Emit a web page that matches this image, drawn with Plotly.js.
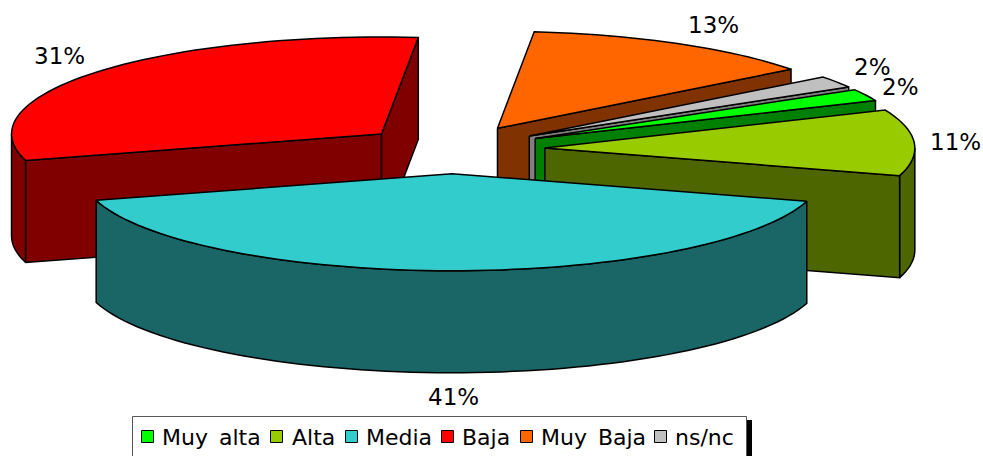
<!DOCTYPE html>
<html>
<head>
<meta charset="utf-8">
<script src="https://cdn.plot.ly/plotly-3.0.1.min.js"></script>
<style>html,body{margin:0;padding:0;background:#fff;overflow:hidden}#chart{width:983px;height:456px}.annotation-text{word-spacing:4px}</style>
</head>
<body>
<div id="chart"></div>
<script>
// ---- data ----
var categories = ["Muy alta", "Alta", "Media", "Baja", "Muy Baja", "ns/nc"];
var values = [2, 11, 41, 31, 13, 2];
var topColors = ["#00FF00", "#99CC00", "#33CCCC", "#FF0000", "#FF6600", "#C0C0C0"];
var sideColors = ["#008000", "#4D6600", "#1A6666", "#800000", "#803300", "#808080"];

// ---- projection of the tilted pie onto the axes ----
var FIRST_ANGLE = 59.7, CX = 452.5, CY = 149.5, RX = 370, RY = 97, DEPTH = 102, EXPLODE = 0.25;
var drawOrder = [4, 5, 0, 1, 3, 2];
var labelPos = [[900, 87], [955, 142], [453, 397], [59, 56], [713, 25], [872, 67]];
var legendSwatchX = [141, 270, 345, 441, 520, 654];
var legendTextX = [160, 290, 364, 460, 539, 673];

function rad(d) { return d * Math.PI / 180; }
var total = values.reduce(function (a, b) { return a + b; }, 0);
var slices = [], cum = FIRST_ANGLE;
values.forEach(function (v, i) {
  var s = cum, e = cum + v / total * 360;
  cum = e;
  var m = (s + e) / 2;
  slices.push({
    i: i, s: s, e: e,
    ax: CX + EXPLODE * RX * Math.sin(rad(m)),
    ay: CY - EXPLODE * RY * Math.cos(rad(m))
  });
});

function pt(sl, a) {
  return [sl.ax + RX * Math.sin(rad(a)), sl.ay - RY * Math.cos(rad(a))];
}
function poly(name, pts, fill) {
  return {
    type: "scatter", mode: "lines", name: name,
    x: pts.map(function (p) { return p[0]; }),
    y: pts.map(function (p) { return p[1]; }),
    fill: "toself", fillcolor: fill,
    line: { color: "#000", width: 1.5, simplify: false },
    hoverinfo: "skip", showlegend: false, cliponaxis: false
  };
}
function arc(sl, a0, a1) {
  var out = [], n = Math.max(2, Math.ceil(Math.abs(a1 - a0) / 2));
  for (var k = 0; k <= n; k++) out.push(pt(sl, a0 + (a1 - a0) * k / n));
  return out;
}
function drop(p) { return [p[0], p[1] + DEPTH]; }

var traces = [];
drawOrder.forEach(function (idx) {
  var sl = slices[idx], name = categories[idx], side = sideColors[idx], apex = [sl.ax, sl.ay];
  var sN = sl.s % 360, eN = sl.e % 360;
  // curved outer wall: only the part facing the viewer (90..270 deg)
  [0, 360].forEach(function (shift) {
    var a0 = Math.max(sl.s, 90 + shift), a1 = Math.min(sl.e, 270 + shift);
    if (a1 > a0) {
      var top = arc(sl, a0, a1);
      traces.push(poly(name, top.concat(top.slice().reverse().map(drop), [top[0]]), side));
    }
  });
  // flat cut walls that face the viewer
  if (sN > 180) {
    var ps = pt(sl, sl.s);
    traces.push(poly(name, [apex, ps, drop(ps), drop(apex), apex], side));
  }
  if (eN < 180) {
    var pe = pt(sl, sl.e);
    traces.push(poly(name, [apex, pe, drop(pe), drop(apex), apex], side));
  }
  // top face
  traces.push(poly(name, [apex].concat(arc(sl, sl.s, sl.e), [apex]), topColors[idx]));
});

// ---- labels and legend ----
var labelFont = { family: "DejaVu Sans, Verdana, sans-serif", size: 23, color: "#000" };
var legendFont = { family: "DejaVu Sans, Verdana, sans-serif", size: 22, color: "#000" };
var annotations = values.map(function (v, i) {
  return { x: labelPos[i][0], y: labelPos[i][1], xref: "x", yref: "y", text: v + "%",
    showarrow: false, font: labelFont, xanchor: "center", yanchor: "middle" };
});
var shapes = [
  { type: "rect", xref: "x", yref: "y", x0: 747, x1: 752, y0: 420, y1: 470, fillcolor: "#000", line: { width: 0 } },
  { type: "rect", xref: "x", yref: "y", x0: 132.5, x1: 746.5, y0: 416.5, y1: 470, fillcolor: "#fff", line: { color: "#555", width: 1 } }
];
categories.forEach(function (c, i) {
  shapes.push({ type: "rect", xref: "x", yref: "y", x0: legendSwatchX[i] + 0.5, x1: legendSwatchX[i] + 12.5,
    y0: 430.5, y1: 442.5, fillcolor: topColors[i], line: { color: "#000", width: 1 } });
  annotations.push({ x: legendTextX[i], y: 437, xref: "x", yref: "y", text: c, showarrow: false,
    font: legendFont, xanchor: "left", yanchor: "middle" });
});

var layout = {
  width: 983, height: 456,
  margin: { l: 0, r: 0, t: 0, b: 0 },
  paper_bgcolor: "#fff", plot_bgcolor: "#fff",
  xaxis: { range: [0, 983], visible: false, fixedrange: true },
  yaxis: { range: [456, 0], visible: false, fixedrange: true },
  showlegend: false, hovermode: false,
  shapes: shapes, annotations: annotations
};
Plotly.newPlot("chart", traces, layout, { displayModeBar: false, staticPlot: true });
</script>
</body>
</html>
